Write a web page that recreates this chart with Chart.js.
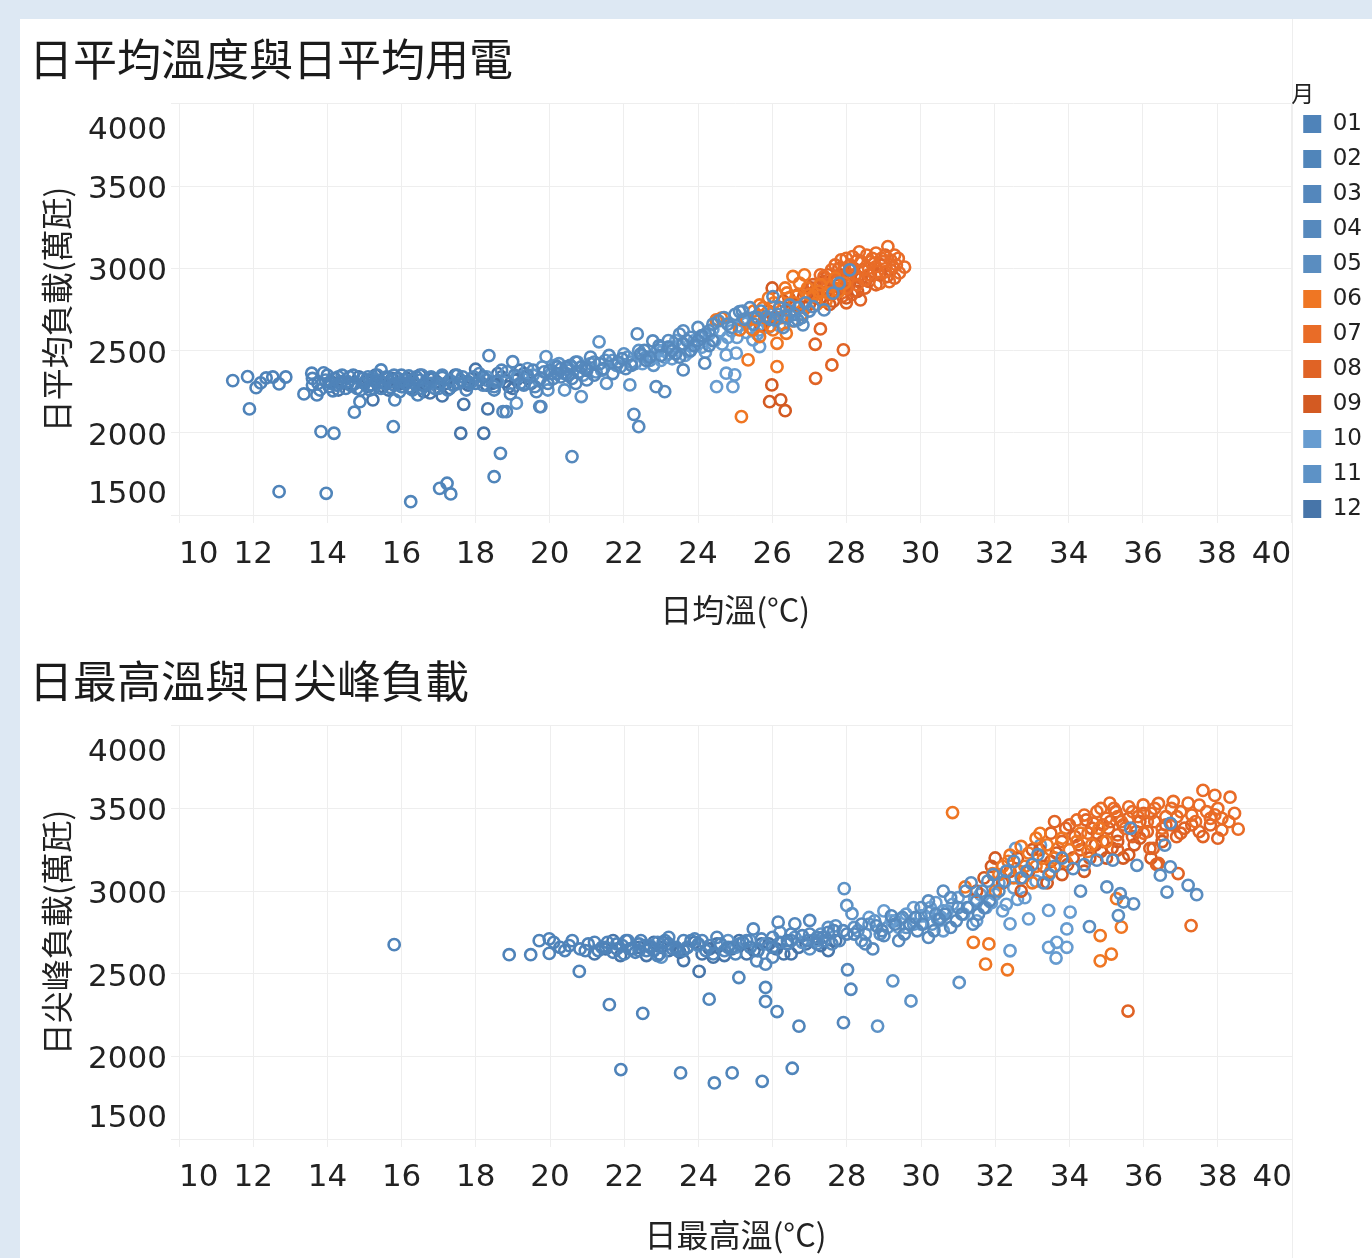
<!DOCTYPE html>
<html>
<head>
<meta charset="utf-8">
<script src="https://cdn.jsdelivr.net/npm/chart.js@4.4.0/dist/chart.umd.min.js"></script>
<style>
  body { margin: 0; background: #dde8f3; width: 1372px; height: 1258px; overflow: hidden; position: relative; }
  #panel { position: absolute; left: 20px; top: 19px; width: 1352px; height: 1239px; background: #fff; }
  #sep { position: absolute; left: 1292px; top: 19px; width: 1px; height: 1239px; background: #eeeeee; }
  canvas { position: absolute; left: 20px; }
  #avgChart { top: 18px; }
  #peakChart { top: 640px; }
</style>
</head>
<body>
<div id="panel"></div>
<div id="sep"></div>
<canvas id="avgChart" width="1352" height="622"></canvas>
<canvas id="peakChart" width="1352" height="618"></canvas>
<script>
// months and colours (legend)
const monthLabels = ['01', '02', '03', '04', '05', '06', '07', '08', '09', '10', '11', '12'];
const monthColors = ['#4f83b9', '#5085ba', '#5487bc', '#5689bd', '#5a8dc0', '#ef7623', '#e96c27', '#e06325', '#d35a22', '#679cd0', '#5d92c6', '#4775a9'];

// axis ticks
const tempTicks = [10, 12, 14, 16, 18, 20, 22, 24, 26, 28, 30, 32, 34, 36, 38, 40];
const loadTicks = [1500, 2000, 2500, 3000, 3500, 4000];

// chart 1: daily mean temperature (°C) vs daily mean load (萬瓩)
const avg01 = [[11.45,2317],[11.85,2341],[11.9,2145],[12.08,2274],[12.2,2303],[12.35,2333],[12.53,2339],[12.7,2297],[12.88,2339],[13.37,2236],[13.58,2362],[13.72,2230],[13.9,2364],[14.05,2280],[14.2,2330],[14.35,2300],[14.5,2270],[14.6,2340],[14.75,2300],[14.9,2260],[15.05,2320],[15.2,2290],[15.35,2350],[15.5,2305],[15.7,2275],[15.9,2330],[16.1,2300],[16.3,2260],[16.5,2320],[13.83,2007],[12.7,1642],
  [13.6,2330],[13.75,2300],[14.0,2350],[14.15,2255],[14.4,2310],[14.7,2350],[14.95,2330],[15.15,2260],[15.3,2310],[15.6,2340],[15.8,2290],[16.0,2350],[16.2,2280],[16.4,2340],[16.6,2290],[16.75,2330],[15.45,2270],[14.25,2290]];
const avg02 = [[13.97,1632],[14.18,1997],[16.25,1581],[17.03,1662],[17.23,1693],[17.33,1628],[15.78,2037],[14.73,2125],[14.88,2189],[13.6,2290],[13.95,2320],[14.4,2350],[14.65,2285],[15.0,2300],[15.25,2270],[15.45,2382],[15.6,2330],[15.82,2200],[16.0,2280],[16.2,2345],[16.44,2230],[16.7,2300],[16.9,2270],[17.1,2335],[17.4,2290],[17.6,2320],[18.0,2300],[18.5,2260],[18.67,1875],[18.5,1733],
  [13.8,2260],[14.1,2300],[14.3,2340],[14.55,2310],[14.8,2270],[15.1,2340],[15.35,2300],[15.7,2310],[15.95,2250],[16.1,2320],[16.35,2300],[16.55,2270],[16.8,2340],[17.0,2300],[17.25,2260],[17.5,2350],[17.8,2310],[18.2,2340]];
const avg03 = [[15.2,2330],[15.55,2300],[15.8,2350],[16.05,2280],[16.3,2320],[16.55,2350],[16.8,2300],[17.0,2270],[17.3,2320],[17.55,2300],[17.75,2260],[17.95,2340],[18.2,2290],[18.36,2469],[18.55,2310],[18.74,2128],[18.83,2128],[18.94,2236],[19.0,2432],[19.2,2300],[19.4,2350],[19.6,2280],[19.64,2250],[19.76,2159],[19.85,2370],[20.1,2330],[20.3,2390],[20.5,2350],[20.7,2300],[21.0,2380],
  [17.1,2350],[17.4,2290],[17.65,2340],[17.85,2300],[18.1,2360],[18.3,2320],[18.5,2280],[18.7,2380],[19.05,2350],[19.3,2290],[19.55,2380],[19.75,2330],[19.95,2300],[20.2,2360],[20.45,2400],[20.6,2330],[20.85,2400],[21.2,2350]];
const avg04 = [[19.73,2159],[20.6,1855],[20.0,2380],[20.3,2340],[20.55,2410],[20.8,2370],[21.0,2321],[21.2,2430],[21.45,2390],[21.7,2360],[21.95,2450],[22.2,2410],[22.27,2112],[22.36,2601],[22.4,2037],[22.45,2480],[22.6,2440],[22.78,2558],[22.87,2280],[23.0,2470],[23.1,2250],[23.2,2520],[23.4,2480],[23.6,2382],[23.6,2540],[23.8,2500],[24.0,2560],[24.18,2423],[24.3,2530],
  [20.2,2400],[20.45,2360],[20.7,2430],[20.95,2390],[21.1,2460],[21.35,2420],[21.6,2470],[21.85,2430],[22.05,2390],[22.55,2500],[22.7,2460],[22.95,2530],[23.3,2500],[23.5,2460],[23.7,2560],[23.9,2530],[24.1,2590],[24.4,2560]];
const avg05 = [[23.2,2560],[23.5,2600],[23.8,2580],[24.0,2640],[24.3,2620],[24.55,2680],[24.8,2660],[25.0,2720],[25.12,2737],[25.25,2690],[25.4,2760],[25.6,2700],[25.84,2706],[26.02,2828],[26.07,2686],[26.2,2760],[26.38,2747],[26.47,2777],[26.6,2720],[26.69,2686],[26.83,2656],[26.9,2790],[27.1,2767],[27.4,2747],[27.64,2849],[27.81,2909],[28.09,2990],[26.3,2640],[26.6,2680],
  [23.6,2620],[24.2,2600],[24.4,2660],[24.7,2700],[24.9,2640],[25.2,2740],[25.5,2660],[25.7,2740],[25.95,2690],[26.15,2720],[26.4,2700],[26.7,2760],[26.8,2700],[27.0,2740]];
const avg06 = [[24.49,2686],[24.63,2697],[25.12,2625],[25.17,2098],[25.3,2686],[25.35,2443],[25.48,2625],[25.5,2740],[25.66,2585],[25.66,2777],[25.8,2700],[25.9,2820],[26.02,2625],[26.13,2544],[26.13,2402],[26.2,2760],[26.38,2605],[26.4,2850],[26.56,2950],[26.6,2790],[26.74,2909],[26.8,2720],[26.87,2960],[27.0,2840],[27.2,2780],[27.3,2900],[27.5,2850],[27.7,2940],
  [25.6,2700],[25.75,2760],[25.95,2650],[26.05,2790],[26.25,2700],[26.45,2780],[26.65,2830],[26.95,2880],[27.1,2830],[27.25,2860],[27.45,2800],[27.6,2890],[27.8,2860],[27.95,2910],[26.35,2880],[26.55,2680]];
const avg07 = [[27.3,2960],[27.5,2900],[27.6,2990],[27.86,3051],[27.9,2950],[28.0,2880],[28.1,3020],[28.17,3071],[28.25,2960],[28.4,3040],[28.5,2930],[28.6,3000],[28.7,3060],[28.8,3092],[28.85,2980],[28.9,2909],[29.0,3040],[29.12,3132],[29.16,2919],[29.25,3010],[29.3,3080],[29.43,2972],[29.57,3007],[28.3,2900],[28.55,3080],
  [27.4,2950],[27.7,3020],[27.75,2920],[27.95,3000],[28.05,2940],[28.15,2990],[28.3,3050],[28.45,2990],[28.6,2960],[28.65,3040],[28.8,3010],[28.95,3060],[29.05,2980],[29.2,3050],[29.35,3020],[29.4,3060],[28.35,3100],[28.0,3060]];
const avg08 = [[26.9,2850],[27.1,2900],[27.16,2538],[27.17,2331],[27.3,2631],[27.35,2800],[27.5,2960],[27.61,2412],[27.7,2870],[27.8,3000],[27.92,2504],[28.0,2930],[28.2,2860],[28.38,2808],[28.45,2990],[28.6,2920],[28.75,3030],[28.9,2960],[29.05,3080],[29.2,2990],[28.1,2960],[27.9,2830],
  [27.2,2880],[27.4,2940],[27.6,2840],[27.75,2940],[27.85,2880],[28.05,2900],[28.15,2840],[28.3,2950],[28.5,2880],[28.65,2960],[28.8,2900],[28.95,3020],[29.1,2950],[29.3,2940],[27.45,2880],[28.0,2790]];
const avg09 = [[25.93,2189],[25.99,2291],[26.23,2200],[26.35,2134],[25.7,2650],[25.9,2740],[26.1,2690],[26.3,2800],[26.5,2740],[26.7,2840],[26.9,2760],[27.05,2880],[27.2,2820],[27.4,2920],[27.55,2780],[27.7,2860],[27.85,2960],[28.0,2820],[28.2,3000],[28.4,2940],[26.0,2880],
  [26.2,2760],[26.45,2820],[26.6,2780],[26.85,2830],[27.0,2780],[27.15,2860],[27.3,2820],[27.5,2860],[27.65,2800],[27.8,2900],[27.95,2880],[28.1,2920],[28.3,2860],[26.05,2700]];
const avg10 = [[22.5,2420],[22.8,2460],[23.05,2500],[23.3,2450],[23.5,2530],[23.75,2490],[23.9,2560],[24.1,2520],[24.3,2600],[24.45,2560],[24.5,2280],[24.6,2620],[24.76,2362],[24.76,2473],[24.8,2580],[24.94,2280],[24.99,2352],[25.03,2484],[25.1,2650],[25.3,2610],[25.3,2666],[25.48,2565],[25.5,2700],[25.66,2524],[25.66,2625],[25.8,2680],[26.0,2720],[26.2,2650],[26.4,2700],
  [23.0,2440],[23.2,2520],[23.4,2560],[23.65,2470],[23.85,2530],[24.05,2580],[24.2,2490],[24.4,2630],[24.65,2540],[24.9,2620],[25.05,2580],[25.2,2680],[25.4,2640],[25.6,2600],[25.9,2640],[26.1,2700],[26.3,2660],[26.5,2720]];
const avg11 = [[18.3,2340],[18.6,2310],[18.85,2370],[19.1,2180],[19.15,2340],[19.4,2390],[19.7,2320],[19.9,2463],[19.95,2260],[20.15,2410],[20.4,2260],[20.4,2360],[20.6,2400],[20.85,2220],[20.9,2350],[21.1,2420],[21.33,2553],[21.4,2380],[21.53,2301],[21.7,2440],[21.9,2400],[22.1,2460],[22.16,2291],[22.3,2420],[22.5,2470],[22.7,2440],[22.9,2500],[23.1,2460],[23.3,2520],
  [19.3,2300],[19.55,2350],[19.8,2400],[20.05,2360],[20.25,2420],[20.5,2380],[20.75,2430],[21.0,2400],[21.25,2370],[21.5,2440],[21.8,2410],[22.0,2480],[22.2,2430],[22.4,2500],[22.6,2460],[22.8,2410],[23.0,2520],[23.2,2480]];
const avg12 = [[14.1,2310],[14.3,2260],[14.55,2300],[14.85,2340],[15.1,2280],[15.23,2200],[15.4,2310],[15.65,2260],[15.9,2300],[16.15,2330],[16.4,2290],[16.6,2250],[16.77,2242],[16.85,2330],[17.1,2224],[17.2,2300],[17.45,2350],[17.6,1997],[17.68,2173],[17.8,2290],[18.0,2386],[18.1,2320],[18.22,1997],[18.33,2145],[18.45,2300],[18.7,2340],[18.9,2280],[19.1,2320],[19.3,2360],[19.5,2300],
  [15.0,2300],[15.3,2350],[15.5,2280],[15.75,2330],[16.0,2300],[16.25,2270],[16.5,2350],[16.7,2290],[16.95,2310],[17.3,2270],[17.55,2300],[17.9,2330],[18.3,2290],[18.6,2360],[18.8,2310],[19.0,2270],[19.2,2380],[19.4,2330]];

// chart 2: daily max temperature (°C) vs daily peak load (萬瓩)
const peak01 = [[15.8,2676],[18.9,2615],[19.48,2615],[19.71,2700],[19.98,2711],[19.98,2623],[20.27,2660],[20.52,2670],[20.79,2514],[20.81,2650],[21.03,2680],[21.3,2640],[21.55,2690],[21.8,2650],[22.05,2700],[22.3,2630],[22.55,2670],[22.8,2640],[23.05,2690],[23.3,2650],[21.91,1920],[21.6,2313],[22.5,2260],
  [20.1,2690],[20.4,2640],[20.6,2700],[20.95,2640],[21.2,2690],[21.4,2660],[21.7,2630],[21.95,2670],[22.2,2650],[22.45,2700],[22.7,2660],[22.95,2620],[23.2,2680],[23.45,2640],[23.6,2700]];
const peak02 = [[23.52,1900],[24.43,1839],[24.91,1900],[25.72,1849],[26.53,1928],[24.29,2346],[25.09,2477],[25.81,2417],[25.81,2332],[26.12,2271],[26.71,2183],[21.5,2660],[22.0,2620],[22.4,2680],[22.9,2610],[23.4,2660],[23.8,2700],[24.2,2640],[24.6,2680],[25.0,2620],[25.4,2660],
  [21.8,2680],[22.15,2650],[22.6,2640],[23.1,2700],[23.6,2640],[24.0,2680],[24.4,2620],[24.8,2660],[25.2,2690],[25.6,2640],[26.0,2660],[26.4,2700]];
const peak03 = [[22.1,2700],[22.7,2670],[23.2,2720],[23.7,2660],[24.1,2700],[24.5,2720],[24.9,2660],[25.3,2700],[25.48,2771],[25.57,2578],[25.81,2558],[26.0,2720],[26.15,2812],[26.4,2680],[26.6,2802],[26.8,2730],[27.0,2822],[27.2,2680],[27.5,2750],[27.8,2700],[27.91,2204],[28.02,2524],[28.11,2406],[26.0,2600],
  [22.4,2640],[22.9,2690],[23.4,2650],[23.9,2710],[24.3,2670],[24.7,2640],[25.1,2680],[25.7,2710],[26.2,2690],[26.5,2740],[26.95,2700],[27.35,2720],[27.65,2760],[28.0,2740]];
const peak04 = [[26.5,2700],[27.2,2720],[27.6,2680],[28.2,2740],[28.5,2680],[28.8,2790],[29.0,2730],[29.4,2700],[29.7,2800],[29.9,2760],[30.2,2720],[30.5,2830],[30.8,2780],[31.1,2860],[31.4,2800],[31.7,2900],[28.7,2650],[29.2,2850],
  [27.0,2740],[27.4,2700],[27.9,2760],[28.4,2800],[28.95,2760],[29.3,2800],[29.55,2740],[29.85,2840],[30.05,2800],[30.35,2760],[30.65,2860],[30.95,2820],[31.25,2900],[31.55,2860],[31.85,2940]];
const peak05 = [[29.5,2840],[30.0,2900],[30.4,2860],[30.8,2960],[31.2,3000],[31.5,2940],[31.8,3060],[32.1,3000],[32.3,3120],[32.7,3080],[33.0,3160],[33.3,3050],[33.6,3150],[34.1,3136],[34.54,2785],[34.74,3187],[35.01,3025],[35.17,3187],[35.32,2852],[35.37,2984],[35.46,2934],[35.65,3380],[35.73,2923],[35.82,3156],[36.45,3096],[36.57,3278],[36.63,2994],[36.72,3147],[36.72,3410],[37.2,3035],[37.43,2978],[34.3,3000],
  [30.2,2940],[30.6,3000],[31.0,2900],[31.35,3050],[31.65,3000],[31.95,3100],[32.25,3060],[32.5,3180],[32.85,3120],[33.15,3220],[33.45,3100],[33.8,3200],[34.4,3160]];
const peak06 = [[30.85,3475],[31.19,3025],[31.41,2690],[31.74,2558],[31.83,2680],[31.93,3106],[32.0,3000],[32.33,2524],[32.4,3217],[32.5,3080],[32.8,3150],[33.0,3050],[33.21,3349],[33.3,3200],[33.5,3120],[33.7,3260],[33.9,3180],[34.2,3300],[34.5,3240],[34.83,2731],[34.83,2578],[35.13,2619],[35.27,2954],[35.4,2782],[32.2,3150],
  [32.1,3100],[32.35,3180],[32.65,3120],[32.9,3230],[33.1,3150],[33.4,3280],[33.6,3200],[33.8,3320],[34.0,3250],[34.3,3350],[34.6,3280],[34.8,3380],[35.0,3300],[32.7,3270],[33.1,3320]];
const peak07 = [[34.2,3430],[34.5,3350],[34.74,3481],[34.9,3400],[35.09,3532],[35.3,3450],[35.5,3380],[35.7,3480],[35.99,3521],[36.1,3420],[36.3,3500],[36.5,3380],[36.8,3542],[36.9,3450],[37.2,3532],[37.4,3420],[37.6,3609],[37.7,3480],[37.92,3579],[37.92,3461],[38.11,3440],[38.11,3369],[38.33,3568],[38.55,3375],[37.28,2791],[36.0,3350],
  [34.4,3460],[34.65,3410],[34.85,3500],[35.0,3440],[35.2,3500],[35.4,3420],[35.6,3510],[35.85,3450],[36.2,3470],[36.4,3530],[36.6,3450],[36.75,3500],[37.0,3480],[37.3,3460],[37.5,3520],[37.8,3440],[38.0,3500],[38.3,3420],[38.45,3470]];
const peak08 = [[33.5,3350],[33.8,3300],[34.0,3400],[34.3,3250],[34.6,3380],[34.9,3300],[35.1,3420],[35.3,3340],[35.58,2274],[35.6,3440],[35.8,3360],[36.0,3470],[36.17,3258],[36.26,3258],[36.35,3161],[36.4,3167],[36.6,3400],[36.89,3329],[36.93,3106],[37.1,3380],[37.5,3360],[37.8,3400],[38.0,3320],[35.3,3250],
  [33.6,3420],[33.9,3380],[34.15,3330],[34.45,3430],[34.75,3350],[35.05,3380],[35.25,3480],[35.45,3400],[35.7,3330],[35.9,3420],[36.1,3360],[36.3,3420],[36.5,3340],[36.75,3400],[37.0,3350],[37.3,3400],[37.6,3330]];
const peak09 = [[31.5,3000],[31.9,3150],[32.2,3050],[32.6,3200],[32.9,3120],[33.2,3250],[33.5,3180],[33.8,3100],[34.1,3200],[34.4,3120],[34.7,3280],[35.0,3200],[35.3,3300],[35.6,3220],[35.9,3320],[36.2,3200],[36.5,3300],[32.7,3000],[33.4,3050],
  [31.7,3080],[32.0,3200],[32.4,3120],[32.75,3080],[33.0,3250],[33.3,3150],[33.65,3230],[33.95,3160],[34.25,3280],[34.55,3200],[34.85,3240],[35.15,3260],[35.45,3200],[35.75,3280]];
const peak10 = [[28.6,2840],[29.0,2880],[29.4,2780],[29.8,2900],[30.1,2850],[30.4,2930],[30.7,2880],[31.0,2960],[31.3,2900],[31.6,2980],[31.9,2930],[32.1,3050],[32.4,2802],[32.4,2639],[32.55,3258],[32.6,2950],[32.9,2832],[33.22,3278],[33.44,2883],[33.44,2660],[33.64,2595],[33.66,2690],[33.93,2771],[33.93,2660],[34.02,2873],[32.2,2880],[31.5,2820],[30.6,2760],
  [29.2,2820],[29.6,2860],[30.0,2800],[30.25,2900],[30.55,2840],[30.85,2920],[31.15,2860],[31.45,2950],[31.75,2900],[32.0,2980],[32.3,2920],[32.5,3020],[32.8,2960],[33.1,3060]];
const peak11 = [[23.0,2600],[24.0,2670],[24.8,2700],[25.6,2640],[26.2,2750],[26.8,2690],[27.3,2740],[27.7,2790],[27.93,3015],[28.0,2913],[28.14,2863],[28.3,2760],[28.6,2800],[28.83,2183],[28.9,2740],[29.24,2457],[29.3,2820],[29.6,2780],[29.73,2335],[30.0,2850],[30.3,2800],[30.6,2880],[31.03,2447],[27.0,2650],[28.4,2700],
  [25.0,2660],[25.4,2700],[25.8,2680],[26.6,2720],[27.2,2700],[27.5,2780],[28.2,2780],[28.5,2740],[28.75,2820],[29.1,2780],[29.45,2830],[29.8,2800],[30.2,2870],[30.45,2830]];
const peak12 = [[21.2,2620],[21.7,2700],[22.2,2650],[22.6,2610],[23.0,2660],[23.5,2630],[23.9,2690],[24.02,2514],[24.3,2650],[24.7,2610],[25.1,2700],[25.5,2640],[25.9,2680],[26.3,2620],[26.7,2660],[27.1,2700],[27.5,2640],[23.6,2580],[24.4,2600],
  [21.5,2650],[21.9,2610],[22.4,2660],[22.8,2690],[23.2,2640],[23.7,2660],[24.1,2620],[24.5,2680],[24.9,2650],[25.3,2620],[25.7,2680],[26.1,2650],[26.5,2620],[26.9,2680],[27.3,2670],[27.7,2700]];

const cjkFont = '"Noto Sans CJK TC", "Noto Sans", sans-serif';
const numFont = '"DejaVu Sans", sans-serif';
const gridColor = '#eeeeee';
const textColor = '#222222';

function makeDatasets(series) {
  return series.map((pts, i) => ({
    label: monthLabels[i],
    data: pts.map(p => ({ x: p[0], y: p[1] })),
    borderColor: monthColors[i],
    backgroundColor: 'rgba(0,0,0,0)',
    borderWidth: 2.6,
    pointRadius: 5.6,
    pointHoverRadius: 5.6
  }));
}

function makeOptions(title, xTitle, yTitle, showLegend, xHeight, xTitlePad, xTickPad) {
  return {
    responsive: false,
    animation: false,
    layout: { padding: { left: 9, right: showLegend ? 0 : 80, top: 0, bottom: 0 } },
    plugins: {
      title: {
        display: true, text: title, align: 'start', color: '#1b1b1b',
        font: { family: cjkFont, size: 44, weight: 'normal' },
        padding: { top: 15, bottom: 18 }
      },
      legend: {
        display: showLegend, position: 'right', align: 'start',
        title: {
          display: true, text: '月', position: 'start', color: textColor,
          font: { family: cjkFont, size: 23, lineHeight: 0.8 },
          padding: { top: 64, bottom: 0 }
        },
        labels: {
          boxWidth: 18, boxHeight: 18, padding: 12, color: textColor,
          font: { family: numFont, size: 23 },
          generateLabels: chart => chart.data.datasets.map((ds, i) => ({
            text: ds.label, fillStyle: monthColors[i], strokeStyle: monthColors[i],
            lineWidth: 0, hidden: false, datasetIndex: i, fontColor: textColor
          }))
        }
      },
      tooltip: { enabled: false }
    },
    scales: {
      x: {
        type: 'linear',
        min: tempTicks[0], max: tempTicks[tempTicks.length - 1],
        afterBuildTicks: s => { s.ticks = tempTicks.map(v => ({ value: v })); },
        afterFit: s => { s.height = xHeight; },
        grid: { color: gridColor, tickLength: 8 },
        border: { color: gridColor },
        ticks: { align: 'inner', padding: xTickPad, color: textColor, autoSkip: false, maxRotation: 0,
          font: { family: numFont, size: 31 } },
        title: { display: true, text: xTitle, color: textColor,
          font: { family: cjkFont, size: 32 }, padding: { top: 0, bottom: xTitlePad } }
      },
      y: {
        type: 'linear',
        min: loadTicks[0], max: loadTicks[loadTicks.length - 1],
        afterBuildTicks: s => { s.ticks = loadTicks.map(v => ({ value: v })); },
        afterFit: s => { s.width = 150; },
        grid: { color: gridColor, tickLength: 8 },
        border: { color: gridColor },
        ticks: {
          padding: 4, color: textColor, autoSkip: false, labelOffset: 4,
          font: { family: numFont, size: 31, lineHeight: 1.52 },
          // first/last labels pulled inside the plot like the original
          callback: (v, i, ticks) => {
            const s = String(v);
            if (i === ticks.length - 1) return ['', s];
            if (i === 0) return [s, ''];
            return s;
          }
        },
        title: { display: true, text: yTitle, color: textColor,
          font: { family: cjkFont, size: 32 }, padding: { top: 9, bottom: 0 } }
      }
    }
  };
}

new Chart(document.getElementById('avgChart'), {
  type: 'scatter',
  data: { datasets: makeDatasets([avg01, avg02, avg03, avg04, avg05, avg06, avg07, avg08, avg09, avg10, avg11, avg12]) },
  options: makeOptions('日平均溫度與日平均用電', '日均溫(°C)', '日平均負載(萬瓩)', true, 125, 11, 13)
});

new Chart(document.getElementById('peakChart'), {
  type: 'scatter',
  data: { datasets: makeDatasets([peak01, peak02, peak03, peak04, peak05, peak06, peak07, peak08, peak09, peak10, peak11, peak12]) },
  options: makeOptions('日最高溫與日尖峰負載', '日最高溫(°C)', '日尖峰負載(萬瓩)', false, 119, 4, 12)
});
</script>
</body>
</html>
